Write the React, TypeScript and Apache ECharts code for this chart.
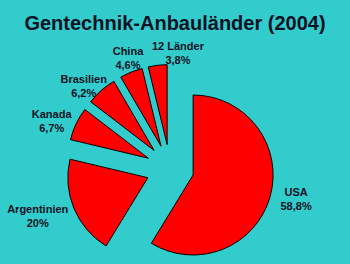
import React, { useEffect, useRef } from "react";
import * as echarts from "echarts";

const titleText = "Gentechnik-Anbauländer (2004)";
const countries = ["USA", "Argentinien", "Kanada", "Brasilien", "China", "12 Länder"];
const shares = [58.8, 20, 6.7, 6.2, 4.6, 3.8];
const shareLabels = ["58,8%", "20%", "6,7%", "6,2%", "4,6%", "3,8%"];

// label placement (layout only): radial distance from pie centre and small nudges
const labelDist = [131, 140, 125.5, 117, 116.5, 114];
const labelDx = [0, -3, -5, -9, 1.5, 21.5];
const labelDy = [-5.5, -6.5, 6.5, 5.5, -2.5, -2.5];

const CX = 170;
const CY = 168.5;
const R = 80;
const OFFSET = 24;
const TEXT = "#0c1224";
const FONT = "'Liberation Sans', Arial, sans-serif";

export default function App() {
  const ref = useRef<HTMLDivElement>(null);

  useEffect(() => {
    if (!ref.current) return;
    const chart = echarts.init(ref.current, null, { renderer: "svg" });
    const total = shares.reduce((a, b) => a + b, 0);
    const mids: number[] = [];
    let cum = 0;
    shares.forEach((s) => {
      mids.push(((cum + s / 2) / total) * 2 * Math.PI);
      cum += s;
    });

    const labels = countries.map((n, i) => {
      const a = mids[i];
      return {
        type: "text",
        silent: true,
        x: CX + Math.sin(a) * labelDist[i] + labelDx[i],
        y: CY - Math.cos(a) * labelDist[i] + labelDy[i],
        style: {
          text: n + "\n" + shareLabels[i],
          align: "center",
          verticalAlign: "middle",
          fontFamily: FONT,
          fontSize: 11,
          fontWeight: "bold",
          lineHeight: 14,
          fill: TEXT,
        },
      };
    });

    chart.setOption({
      animation: false,
      backgroundColor: "#33cccc",
      title: {
        text: titleText,
        left: "center",
        top: 8,
        textStyle: {
          fontFamily: FONT,
          fontSize: 20,
          fontWeight: "bold",
          color: TEXT,
        },
      },
      graphic: labels,
      series: [
        {
          type: "pie",
          center: [CX, CY],
          radius: R,
          startAngle: 90,
          clockwise: true,
          selectedMode: "multiple",
          selectedOffset: OFFSET,
          avoidLabelOverlap: false,
          silent: true,
          itemStyle: { color: "#ff0000", borderColor: "#000000", borderWidth: 1 },
          labelLine: { show: false },
          label: { show: false },
          data: countries.map((n, i) => ({ name: n, value: shares[i], selected: true })),
        },
      ],
    });
    return () => chart.dispose();
  }, []);

  return (
    <div
      ref={ref}
      style={{ position: "absolute", left: 0, top: 0, width: 350, height: 264 }}
    />
  );
}
